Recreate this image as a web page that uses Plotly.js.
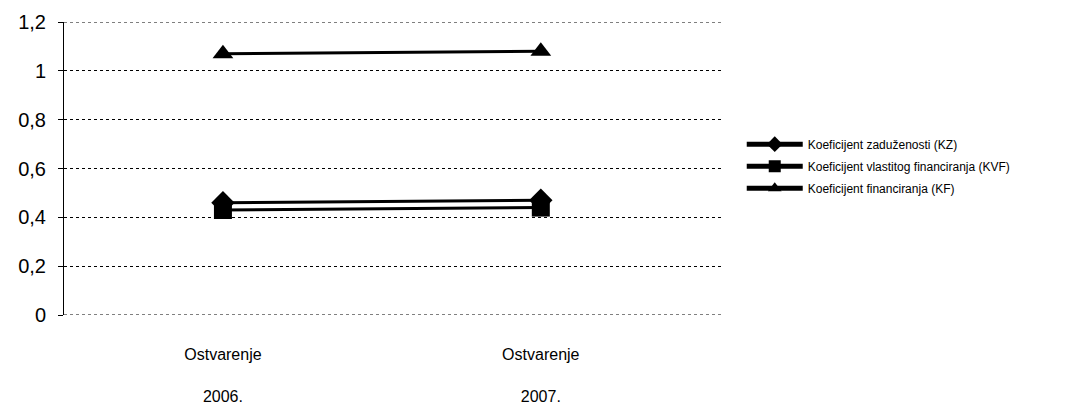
<!DOCTYPE html>
<html><head><meta charset="utf-8">
<script src="https://cdn.plot.ly/plotly-3.0.1.min.js"></script>
<style>html,body{margin:0;padding:0;background:#fff}#c{width:1071px;height:409px}</style>
</head><body><div id="c"></div>
<script>
const categories = ["Ostvarenje<br><br>2006.", "Ostvarenje<br><br>2007."];
const seriesNames = ["Koeficijent zaduženosti (KZ)", "Koeficijent vlastitog financiranja (KVF)", "Koeficijent financiranja (KF)"];
const kz = [0.46, 0.47];
const kvf = [0.43, 0.44];
const kf = [1.07, 1.08];
const yTickVals = [0, 0.2, 0.4, 0.6, 0.8, 1, 1.2];
const yTickText = ["0", "0,2", "0,4", "0,6", "0,8", "1", "1,2"];

const symbols = ["diamond", "square", "triangle-up"];
const data = [kz, kvf, kf].map((v, i) => ({
  x: categories, y: v, name: seriesNames[i], type: "scatter", mode: "lines+markers",
  legendgroup: "g" + i,
  line: {color: "#000", width: 3},
  marker: {symbol: symbols[i], size: 18, color: "#000"}
}));

const edgeLines = [yTickVals[0], yTickVals[yTickVals.length - 1]].map(v => ({
  type: "line", xref: "paper", yref: "y", x0: 0, x1: 1, y0: v, y1: v,
  line: {color: "#000", width: 1, dash: "dot"}, layer: "below"
}));

const layout = {
  width: 1071, height: 409,
  margin: {l: 64, r: 349, t: 22, b: 94},
  paper_bgcolor: "#fff", plot_bgcolor: "#fff",
  font: {family: "Liberation Sans, Arial, sans-serif", color: "#000"},
  showlegend: true,
  shapes: edgeLines,
  legend: {x: 1.03, y: 0.508, xanchor: "left", yanchor: "middle", font: {size: 12, color: "#000"},
           itemsizing: "constant", itemwidth: 56, tracegroupgap: 3, bgcolor: "rgba(0,0,0,0)"},
  xaxis: {type: "category", range: [-0.5, 1.57], showgrid: false, zeroline: false, showline: false,
          ticks: "", tickfont: {size: 16}, ticklabelstandoff: 28, fixedrange: true},
  yaxis: {range: [0, 1.2], tickvals: yTickVals, ticktext: yTickText, tickfont: {size: 20},
          showgrid: true, gridcolor: "#000", gridwidth: 1, griddash: "dot",
          zeroline: false, showline: true, linecolor: "#000", linewidth: 1,
          ticks: "outside", ticklen: 5, tickcolor: "#000", ticklabelstandoff: 8, fixedrange: true}
};
Plotly.newPlot("c", data, layout, {staticPlot: true});
</script></body></html>
